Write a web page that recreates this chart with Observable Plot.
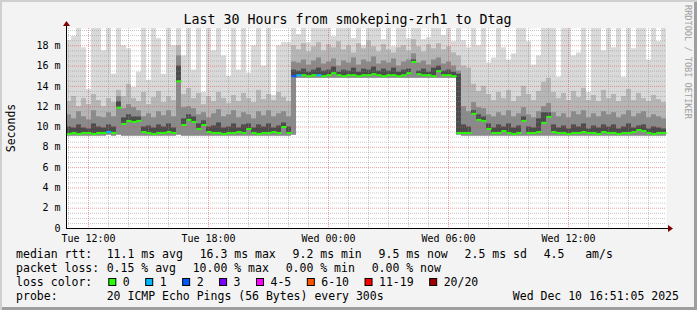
<!DOCTYPE html>
<html>
<head>
<meta charset="utf-8">
<script src="https://cdn.jsdelivr.net/npm/d3@7"></script>
<script src="https://cdn.jsdelivr.net/npm/@observablehq/plot@0.6"></script>
<style>
  html, body { margin: 0; padding: 0; background: #f3f3f3; }
  #wrap { position: relative; width: 697px; height: 310px; background: #f3f3f3; overflow: hidden;
          box-shadow: inset 2px 2px 0 #cfcfcf, inset -3px -3px 0 #9e9e9e; }
  #wrap svg { position: absolute; left: 0; top: 0; }
</style>
</head>
<body>
<div id="wrap"></div>
<script>
// ---- time axis: 120 buckets of 15 minutes, hours counted from Tue 00:00 ----
const T0 = 10.9;
const STEP = 0.25;

// median rtt (ms) per bucket
const med = [
  9.3, 9.4, 9.3, 9.4, 9.4, 9.3, 9.4, 9.4, 9.5, 9.4,
  11.9, 10.3, 10.6, 10.5, 10.6, 9.5, 9.4, 9.3, 9.4, 9.4,
  9.5, 9.4, 14.5, 10.2, 10.7, 10.5, 9.8, 10.2, 9.5, 9.4,
  9.4, 9.3, 9.4, 9.4, 9.5, 9.4, 9.8, 9.4, 9.3, 9.4,
  9.4, 9.5, 9.4, 10.0, 9.4, 15.0, 15.1, 15.1, 15.0, 15.1,
  15.1, 15.0, 15.1, 15.3, 15.1, 15.0, 15.1, 15.1, 15.0, 15.1,
  15.1, 15.2, 15.1, 15.0, 15.1, 15.1, 15.0, 15.1, 15.3, 16.4,
  15.2, 15.1, 15.1, 15.0, 15.5, 15.1, 15.1, 15.0, 9.4, 9.4,
  9.4, 11.3, 10.7, 10.6, 9.8, 9.4, 9.4, 9.6, 9.4, 9.3,
  9.4, 10.6, 9.4, 9.4, 9.5, 10.4, 11.0, 9.5, 9.4, 9.4,
  9.3, 9.4, 9.4, 9.5, 9.4, 9.4, 9.3, 9.5, 9.4, 9.4,
  9.3, 9.4, 9.4, 9.5, 9.7, 9.6, 9.4, 9.3, 9.4, 9.4
];
// lowest ping (bottom of smoke)
const lo = [
  9.1, 9.1, 9.1, 9.1, 9.1, 9.1, 9.1, 9.1, 9.2, 9.1,
  9.2, 9.1, 9.1, 9.1, 9.1, 9.1, 9.1, 9.1, 9.1, 9.1,
  9.1, 9.1, 9.2, 9.1, 9.1, 9.1, 9.1, 9.1, 9.1, 9.1,
  9.1, 9.1, 9.1, 9.1, 9.1, 9.1, 9.1, 9.1, 9.1, 9.1,
  9.1, 9.1, 9.1, 9.1, 9.1, 9.2, 14.8, 14.8, 14.8, 14.8,
  14.8, 14.8, 14.8, 14.8, 14.8, 14.8, 14.8, 14.8, 14.8, 14.8,
  14.8, 14.8, 14.8, 14.8, 14.8, 14.8, 14.8, 14.8, 14.8, 14.8,
  14.8, 14.8, 14.8, 14.8, 14.8, 14.8, 14.8, 14.8, 9.2, 9.1,
  9.1, 9.1, 9.1, 9.1, 9.1, 9.1, 9.1, 9.1, 9.1, 9.1,
  9.1, 9.1, 9.1, 9.1, 9.1, 9.1, 9.1, 9.1, 9.1, 9.1,
  9.1, 9.1, 9.1, 9.1, 9.1, 9.1, 9.1, 9.1, 9.1, 9.1,
  9.1, 9.1, 9.1, 9.1, 9.1, 9.1, 9.1, 9.1, 9.1, 9.1
];
// smoke levels, lightest (highest ping) to darkest
const top1 = [
  18.5, 18.9, 19.7, 17.8, 13.7, 19.7, 19.7, 17.5, 19.7, 15.2,
  19.7, 18.0, 17.7, 13.9, 15.4, 19.7, 14.6, 19.7, 18.7, 15.2,
  19.7, 18.0, 19.7, 17.0, 19.7, 15.6, 19.7, 13.4, 19.7, 17.5,
  19.7, 17.0, 15.0, 19.7, 15.6, 19.7, 15.3, 18.0, 19.7, 16.0,
  19.7, 13.1, 18.0, 18.3, 18.3, 19.7, 19.1, 19.7, 18.3, 19.7,
  19.7, 19.7, 19.7, 18.9, 19.7, 19.7, 19.7, 18.7, 19.7, 18.0,
  19.7, 19.7, 19.7, 18.6, 19.7, 17.9, 19.7, 19.7, 18.7, 19.7,
  19.7, 18.6, 18.8, 19.7, 19.7, 19.0, 19.7, 18.4, 19.7, 18.5,
  17.8, 19.7, 18.0, 19.7, 16.3, 16.8, 19.7, 17.8, 16.6, 17.2,
  19.7, 19.7, 18.4, 16.1, 17.0, 19.7, 19.7, 19.7, 14.9, 19.7,
  19.7, 17.0, 17.3, 19.7, 13.4, 19.7, 19.7, 17.5, 19.7, 17.8,
  19.7, 14.9, 19.7, 17.7, 19.7, 19.7, 16.6, 19.7, 18.4, 19.7
];
const top2 = [
  12.5, 13.0, 12.0, 12.8, 12.2, 13.2, 12.6, 12.0, 12.8, 12.4,
  13.6, 13.0, 14.2, 12.8, 12.5, 13.4, 12.2, 12.9, 13.5, 12.4,
  13.0, 12.6, 18.0, 13.2, 13.8, 12.8, 13.3, 12.2, 13.0, 12.5,
  13.4, 12.8, 12.3, 13.1, 12.5, 13.3, 12.8, 12.4, 13.6, 12.7,
  13.2, 12.6, 13.4, 12.9, 12.5, 18.0, 17.6, 18.2, 17.4, 17.9,
  18.3, 17.5, 18.1, 17.8, 18.4, 17.6, 18.0, 17.3, 18.2, 17.7,
  18.5, 17.9, 17.4, 18.1, 17.6, 17.3, 17.8, 18.0, 17.5, 18.6,
  17.9, 17.4, 18.1, 17.7, 18.2, 17.6, 17.9, 17.3, 17.0, 16.0,
  15.8, 14.2, 13.5, 14.0, 13.2, 12.6, 13.4, 12.8, 13.6, 12.5,
  13.0, 14.0, 13.2, 12.6, 13.5, 14.4, 14.8, 13.4, 12.8, 13.3,
  12.6, 13.5, 12.9, 13.8, 12.6, 13.1, 12.5, 13.6, 12.8, 13.2,
  12.5, 13.0, 13.7, 12.6, 13.3, 12.8, 12.5, 13.1, 12.7, 12.4
];
const top3 = [
  11.2, 10.8, 11.5, 11.0, 10.7, 11.6, 11.0, 10.9, 11.4, 11.0,
  13.0, 11.8, 12.2, 11.9, 11.6, 11.0, 11.3, 10.9, 11.5, 11.1,
  11.6, 11.0, 17.0, 11.9, 12.0, 11.8, 11.2, 11.4, 10.9, 11.3,
  11.7, 11.0, 11.2, 11.6, 10.9, 11.4, 11.2, 10.8, 11.5, 11.1,
  11.6, 11.0, 11.3, 11.5, 11.0, 16.4, 16.3, 16.6, 16.1, 16.5,
  16.8, 16.2, 16.4, 16.7, 16.0, 16.5, 16.3, 16.8, 16.1, 16.6,
  16.4, 16.9, 16.2, 16.5, 16.3, 16.7, 16.0, 16.4, 16.6, 17.2,
  16.3, 16.5, 16.1, 16.6, 16.8, 16.2, 16.4, 16.0, 15.5, 12.0,
  11.5, 12.4, 11.9, 11.8, 11.2, 11.0, 11.4, 11.1, 11.6, 11.0,
  11.3, 11.9, 11.2, 10.9, 11.5, 12.0, 12.3, 11.4, 11.0, 11.3,
  10.9, 11.5, 11.2, 11.6, 10.9, 11.3, 11.0, 11.5, 11.2, 11.4,
  10.9, 11.2, 11.6, 11.0, 11.3, 11.5, 10.9, 11.2, 11.0, 10.8
];
const top4 = [
  10.0, 9.9, 10.2, 9.9, 9.8, 10.3, 10.0, 9.9, 10.2, 10.0,
  12.5, 10.9, 11.2, 11.0, 11.0, 10.0, 10.1, 9.9, 10.2, 10.0,
  10.3, 9.9, 16.0, 10.8, 11.2, 11.0, 10.3, 10.6, 10.0, 10.1,
  10.4, 9.9, 10.0, 10.3, 9.9, 10.2, 10.3, 9.9, 10.2, 10.0,
  10.3, 9.9, 10.1, 10.4, 10.0, 15.6, 15.5, 15.7, 15.4, 15.6,
  15.8, 15.5, 15.6, 15.9, 15.4, 15.6, 15.5, 15.8, 15.4, 15.7,
  15.6, 15.9, 15.5, 15.7, 15.5, 15.8, 15.4, 15.6, 15.7, 16.6,
  15.5, 15.7, 15.4, 15.8, 16.0, 15.5, 15.6, 15.4, 15.2, 10.2,
  10.0, 11.6, 11.2, 11.0, 10.3, 9.9, 10.2, 10.0, 10.3, 9.9,
  10.1, 11.0, 10.0, 9.9, 10.8, 11.4, 11.4, 10.2, 9.9, 10.1,
  9.8, 10.2, 10.0, 10.3, 9.8, 10.1, 9.9, 10.2, 10.0, 10.2,
  9.8, 10.0, 10.3, 9.9, 10.1, 10.2, 9.8, 10.0, 9.9, 9.8
];
// packet loss count (out of 20) per bucket
const loss = [
  0, 0, 0, 0, 0, 0, 0, 0, 1, 0,
  0, 0, 0, 0, 0, 0, 0, 0, 0, 0,
  0, 0, 0, 0, 0, 0, 0, 0, 0, 0,
  0, 0, 0, 0, 0, 0, 0, 0, 0, 0,
  0, 0, 0, 0, 0, 2, 1, 0, 0, 0,
  1, 0, 0, 0, 0, 0, 0, 0, 0, 0,
  0, 0, 0, 0, 0, 0, 0, 0, 0, 0,
  0, 0, 0, 0, 0, 0, 0, 0, 0, 0,
  0, 0, 0, 0, 0, 0, 0, 0, 0, 0,
  0, 0, 0, 0, 0, 0, 0, 0, 0, 0,
  0, 0, 0, 0, 0, 0, 0, 0, 0, 0,
  0, 0, 0, 0, 0, 0, 0, 0, 0, 0
];

const lossLabels = ["0", "1", "2", "3", "4-5", "6-10", "11-19", "20/20"];
const lossColors = ["#26ff00", "#00b8ff", "#0059ff", "#7e00ff", "#ff00ff", "#ff5500", "#ff0000", "#a10000"];

const xTickHours = [12, 18, 24, 30, 36];
const xTickLabels = ["Tue 12:00", "Tue 18:00", "Wed 00:00", "Wed 06:00", "Wed 12:00"];
const yTicks = [0, 2, 4, 6, 8, 10, 12, 14, 16, 18];
const yTickLabels = ["0", "2 m", "4 m", "6 m", "8 m", "10 m", "12 m", "14 m", "16 m", "18 m"];

const title = "Last 30 Hours from smokeping-zrh1 to Dtag";
const yLabel = "Seconds";
const rttStats = ["11.1 ms avg", "16.3 ms max", "9.2 ms min", "9.5 ms now", "2.5 ms sd", "4.5   am/s"];
const lossStats = ["0.15 % avg", "10.00 % max", "0.00 % min", "0.00 % now"];
const probeText = "20 ICMP Echo Pings (56 Bytes) every 300s";
const stamp = "Wed Dec 10 16:51:05 2025";
const watermark = "RRDTOOL / TOBI OETIKER";

// ---- build table ----
const data = med.map((m, i) => ({
  h: T0 + i * STEP, h2: T0 + (i + 1) * STEP,
  med: m, lo: lo[i], t1: top1[i], t2: top2[i], t3: top3[i], t4: top4[i],
  color: lossColors[loss[i] >= 20 ? 7 : loss[i] >= 11 ? 6 : loss[i] >= 6 ? 5 : loss[i] >= 4 ? 4 : loss[i]]
}));

const hoursMinor = d3.range(11, 41).filter(h => h % 6 !== 0);
const yMinor = d3.range(0.5, 19.6, 0.5).filter(v => Math.abs(v % 2) > 1e-9);
const yMajor = yTicks.filter(v => v > 0);

const FONT = "DejaVu Sans Mono";

const chart = Plot.plot({
  width: 697, height: 250,
  marginLeft: 66, marginRight: 31, marginTop: 28, marginBottom: 22,
  style: {background: "transparent", fontFamily: FONT, fontSize: "10px", color: "black", overflow: "visible"},
  color: {type: "identity"},
  x: {domain: [T0, T0 + 30], ticks: xTickHours, tickFormat: d => xTickLabels[xTickHours.indexOf(d)],
      tickSize: 0, tickPadding: 6, label: null},
  y: {domain: [0, 19.7], ticks: yTicks, tickFormat: d => yTickLabels[yTicks.indexOf(d)],
      tickSize: 0, tickPadding: 6, label: null},
  marks: [
    Plot.frame({fill: "white", stroke: "none"}),
    Plot.rect(data, {x1: "h", x2: "h2", y1: "lo", y2: "t1", fill: "#d9d9d9", clip: true}),
    Plot.rect(data, {x1: "h", x2: "h2", y1: "lo", y2: "t2", fill: "#b6b6b6", clip: true}),
    Plot.rect(data, {x1: "h", x2: "h2", y1: "lo", y2: "t3", fill: "#8a8a8a", clip: true}),
    Plot.rect(data, {x1: "h", x2: "h2", y1: "med", y2: "t4", fill: "#4c4c4c", clip: true}),
    Plot.ruleX(hoursMinor, {stroke: "#8f8f8f", strokeOpacity: 0.5, strokeDasharray: "1,1"}),
    Plot.ruleY(yMinor, {stroke: "#8f8f8f", strokeOpacity: 0.5, strokeDasharray: "1,1"}),
    Plot.ruleX(xTickHours, {stroke: "#de5050", strokeOpacity: 0.55, strokeDasharray: "1,1"}),
    Plot.ruleY(yMajor, {stroke: "#de5050", strokeOpacity: 0.55, strokeDasharray: "1,1"}),
    Plot.link(data, {x1: "h", x2: "h2", y1: "med", y2: "med", stroke: "color", strokeWidth: 2}),
    Plot.ruleY([0], {stroke: "black"}),
    Plot.ruleX([T0], {stroke: "black"})
  ]
});

const wrap = document.getElementById("wrap");
wrap.appendChild(chart);

// axis arrows (decoration)
const cs = d3.select(chart);
cs.append("line").attr("x1", 666).attr("x2", 670).attr("y1", 228.5).attr("y2", 228.5).attr("stroke", "black");
cs.append("polygon").attr("points", "668,225 668,232 673,228.5").attr("fill", "#7f0000");
cs.append("line").attr("x1", 66.5).attr("x2", 66.5).attr("y1", 24).attr("y2", 28).attr("stroke", "black");
cs.append("polygon").attr("points", "63,26 70,26 66.5,21").attr("fill", "#7f0000");

// ---- texts and legend ----
const ov = d3.select(wrap).append("svg")
  .attr("width", 697).attr("height", 310)
  .style("font-family", FONT);

ov.append("text").attr("x", 347.5).attr("y", 24).attr("text-anchor", "middle")
  .attr("font-size", 13.3).text(title);

ov.append("text").attr("transform", "translate(15,128) rotate(-90)").attr("text-anchor", "middle")
  .attr("font-size", 11.5).text(yLabel);

ov.append("text").attr("transform", "translate(685,5) rotate(90)")
  .attr("font-size", 8.6).attr("fill", "#a0a0a0").text(watermark);

const FS = 11.5;
const cw = 6.93;     // monospace advance
const gap = 16.7;    // space between legend items
function rowItems(head, items, x0) {
  const out = [[head, 16.1]];
  let x = x0;
  items.forEach(t => { out.push([t, x]); x += t.length * cw + gap; });
  return out;
}
const rows = [
  {y: 258, items: rowItems("median rtt:", rttStats, 106.7)},
  {y: 272, items: rowItems("packet loss:", lossStats, 106.7)},
  {y: 286, items: [["loss color:", 16.1]]},
  {y: 300, items: [["probe:", 16.1], [probeText, 106.7], [stamp, 512.8]]}
];
rows.forEach(r => r.items.forEach(([t, x]) => {
  ov.append("text").attr("x", x).attr("y", r.y).attr("font-size", FS)
    .attr("xml:space", "preserve").style("white-space", "pre").text(t);
}));

let lx = 108.3;
lossLabels.forEach((lab, i) => {
  ov.append("rect").attr("x", lx + 0.5).attr("y", 278.5).attr("width", 7).attr("height", 7)
    .attr("fill", lossColors[i]).attr("stroke", "black").attr("stroke-width", 1);
  ov.append("text").attr("x", lx + 14.5).attr("y", 286).attr("font-size", FS).text(lab);
  lx = lx + 15 + lab.length * cw + 15;
});
</script>
</body>
</html>
